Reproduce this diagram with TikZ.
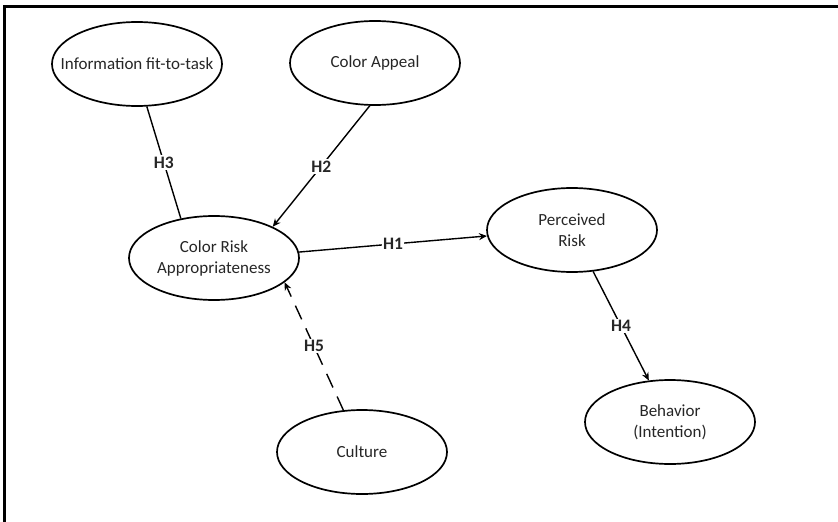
\documentclass[tikz,border=0pt]{standalone}
\usepackage{fontspec}
\setmainfont{Carlito}
\usetikzlibrary{arrows.meta,shapes.geometric}

\tikzset{
  construct/.style={draw, ellipse, line width=1.7pt, minimum width=170pt, minimum height=84pt,
    inner sep=0pt, label={[align=center, font=\fontsize{17}{21}\selectfont, text=black!85]center:#1}},
  hyp/.style={fill=white, inner sep=1.5pt, font=\fontsize{17.5}{21}\selectfont\bfseries, text=black!85},
  link/.style={line width=1.4pt}
}

\begin{document}
\begin{tikzpicture}[x=1pt, y=-1pt, >={Stealth[length=8pt,width=7pt]}]
  \useasboundingbox (0,0) rectangle (838,522);
  \draw [line width=2.2pt] (4.5,522) -- (4.5,6.5) -- (838,6.5);

  \node [construct={Information fit-to-task}] (info) at (137,64) {};
  \node [construct={Color Appeal}] (appeal) at (375,63) {};
  \node [construct={Color Risk\\Appropriateness}] (cra) at (214,258) {};
  \node [construct={Perceived\\Risk}] (risk) at (572,230) {};
  \node [construct={Behavior\\(Intention)}] (behav) at (670,422) {};
  \node [construct={Culture}] (culture) at (362,452) {};

  \draw [link] (info.-77) -- node [hyp] {H3} (cra.130);
  \draw [link,->] (appeal.-97) -- node [hyp] {H2} (cra.28);
  \draw [link,->] (cra.4) -- node [hyp] {H1} (risk.184);
  \draw [link,->] (risk.-63) -- node [hyp] {H4} (behav.117);
  \draw [link,->,dash pattern=on 15pt off 10pt] (culture.114) -- node [hyp] {H5} (cra.-19);
\end{tikzpicture}
\end{document}
